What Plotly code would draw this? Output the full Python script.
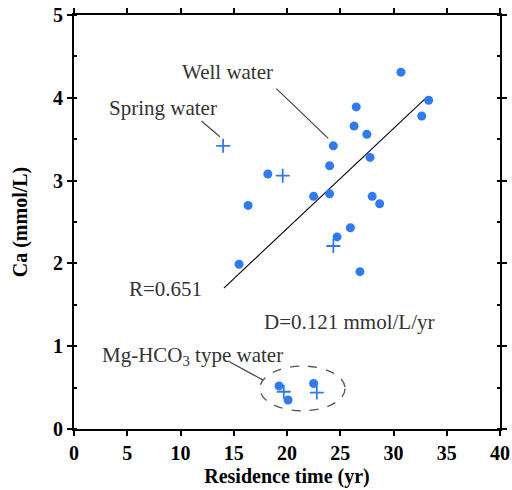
import plotly.graph_objects as go

# Well water (filled circles)
well_x = [30.7, 33.3, 26.5, 26.3, 32.65, 27.5, 24.35, 27.8, 24.0, 18.2,
          22.5, 24.0, 28.0, 28.7, 16.35, 25.95, 24.7, 15.5, 26.85,
          19.25, 20.1, 22.5]
well_y = [4.31, 3.97, 3.89, 3.66, 3.78, 3.56, 3.42, 3.28, 3.18, 3.08,
          2.81, 2.84, 2.81, 2.72, 2.70, 2.43, 2.32, 1.99, 1.90,
          0.52, 0.35, 0.55]
# Spring water (plus markers)
spring_x = [14.0, 19.6, 24.35, 19.7, 22.8]
spring_y = [3.42, 3.06, 2.21, 0.45, 0.44]

# Regression line
slope = 0.121
intercept = 0.0
fit_x = [14.07, 32.96]

# Mg-HCO3 ellipse bounds
ell_x = [17.45, 25.45]
ell_y = [0.22, 0.76]

# Annotation leader lines
lead_well = ([19.0, 23.87], [4.11, 3.51])
lead_spring = ([11.97, 13.7], [3.72, 3.53])
lead_mg = ([14.63, 17.76], [0.81, 0.59])

x_ticks = [0, 5, 10, 15, 20, 25, 30, 35, 40]
y_ticks = [0, 1, 2, 3, 4, 5]

blue = "#2F7BF7"
txt = "#333333"
serif = "Liberation Serif"

fig = go.Figure()
fig.add_trace(go.Scatter(x=fit_x, y=[slope * v + intercept for v in fit_x],
                         mode="lines", line=dict(color="black", width=1.1),
                         showlegend=False, hoverinfo="skip"))
for lx, ly in [lead_well, lead_spring, lead_mg]:
    fig.add_trace(go.Scatter(x=lx, y=ly, mode="lines",
                             line=dict(color="#444444", width=1.2),
                             showlegend=False, hoverinfo="skip"))
fig.add_trace(go.Scatter(x=well_x, y=well_y, mode="markers",
                         marker=dict(color=blue, size=9, symbol="circle"),
                         showlegend=False))
fig.add_trace(go.Scatter(x=spring_x, y=spring_y, mode="markers",
                         marker=dict(color=blue, size=10, symbol="cross-thin",
                                     line=dict(color=blue, width=1.8)),
                         showlegend=False))

fig.add_shape(type="circle", xref="x", yref="y",
              x0=ell_x[0], x1=ell_x[1], y0=ell_y[0], y1=ell_y[1],
              line=dict(color="#555555", width=1.3, dash="dash"))

ann_font = dict(family=serif, size=21, color=txt)
fig.add_annotation(x=14.45, y=4.31, text="Well water", showarrow=False, font=ann_font)
fig.add_annotation(x=8.34, y=3.88, text="Spring water", showarrow=False, font=ann_font)
fig.add_annotation(x=8.55, y=1.69, text="R=0.651", showarrow=False, font=ann_font)
fig.add_annotation(x=25.9, y=1.29, text="D=0.121 mmol/L/yr", showarrow=False, font=ann_font)
fig.add_annotation(x=11.15, y=0.88, text="Mg-HCO<sub>3</sub> type water",
                   showarrow=False, font=ann_font)

tick_font = dict(family=serif, size=20, color="black", weight="bold")
fig.update_xaxes(range=[0, 40], tickvals=x_ticks, ticktext=[str(v) for v in x_ticks],
                 ticks="outside", ticklen=5, tickwidth=1.5, tickcolor="black",
                 showline=True, linecolor="black", linewidth=2, mirror="allticks",
                 showgrid=False, zeroline=False, tickfont=tick_font, automargin=False,
                 title=dict(text="Residence time (yr)",
                            font=dict(family=serif, size=20, color="black", weight="bold"),
                            standoff=6))
fig.update_yaxes(range=[0, 5], tickvals=y_ticks, ticktext=[str(v) for v in y_ticks],
                 ticks="outside", ticklen=5, tickwidth=1.5, tickcolor="black",
                 showline=True, linecolor="black", linewidth=2, mirror="allticks",
                 showgrid=False, zeroline=False, tickfont=tick_font, automargin=False,
                 minor=dict(dtick=0.5, ticks="inside", ticklen=3, tickwidth=1.5,
                            tickcolor="black", showgrid=False),
                 title=dict(text="Ca (mmol/L)",
                            font=dict(family=serif, size=20, color="black", weight="bold"),
                            standoff=20))
fig.update_layout(width=512, height=490, plot_bgcolor="white", paper_bgcolor="white",
                  margin=dict(l=74, r=12, t=15, b=61),
                  font=dict(family=serif), showlegend=False)
fig.write_html("out.html")
